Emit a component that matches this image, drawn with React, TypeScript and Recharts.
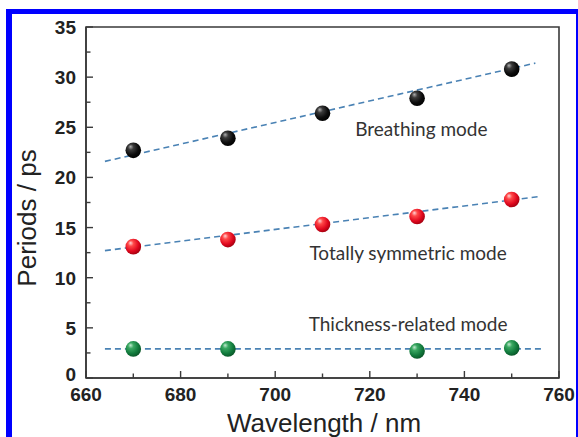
import { ComposedChart, ReferenceArea, ReferenceDot, Scatter, XAxis, YAxis } from 'recharts'

const WAVELENGTH = [670, 690, 710, 730, 750]
const BREATHING = [22.7, 23.9, 26.4, 27.9, 30.8]
const SYMMETRIC = [13.1, 13.8, 15.3, 16.1, 17.8]
const THICKNESS_WL = [670, 690, 730, 750]
const THICKNESS = [2.9, 2.9, 2.7, 3.0]

// linear fit lines, end points
const BREATHING_FIT_WL = [664, 755]
const BREATHING_FIT = [21.6, 31.4]
const SYMMETRIC_FIT_WL = [664, 756]
const SYMMETRIC_FIT = [12.7, 18.1]
const THICKNESS_FIT_WL = [664, 757]
const THICKNESS_FIT = [2.9, 2.9]

const X_TICKS = [660, 670, 680, 690, 700, 710, 720, 730, 740, 750, 760]
const Y_TICKS = [0, 2.5, 5, 7.5, 10, 12.5, 15, 17.5, 20, 22.5, 25, 27.5, 30, 32.5, 35]

const LABELS = [
  { text: 'Breathing mode', x: 730.9, y: 24.8 },
  { text: 'Totally symmetric mode', x: 728.1, y: 12.4 },
  { text: 'Thickness-related mode', x: 728.1, y: 5.4 },
]

const toPoints = (xs: number[], ys: number[]) => xs.map((x, i) => ({ x, y: ys[i] }))

const AXIS = '#3a3a3a'
const FIT = '#4a82b4'
const TICK_FONT = { fontFamily: '"Liberation Sans", Arial, sans-serif', fontWeight: 700, fontSize: 19, fill: '#222' }

function XTick({ x, y, payload }: any) {
  const major = payload.value % 20 === 0
  return (
    <g>
      <line x1={x} y1={y} x2={x} y2={y - (major ? 7 : 4.5)} stroke={AXIS} strokeWidth={1.4} />
      {major && (
        <text x={x} y={y + 23} textAnchor="middle" {...TICK_FONT}>
          {payload.value}
        </text>
      )}
    </g>
  )
}

function YTick({ x, y, payload }: any) {
  const major = payload.value % 5 === 0
  // the 0 label sits a little higher so it clears the 660 below it
  const lift = payload.value === 0 ? 4 : 0
  return (
    <g>
      <line x1={x} y1={y} x2={x + (major ? 7 : 4.5)} y2={y} stroke={AXIS} strokeWidth={1.4} />
      {major && (
        <text x={x - 10} y={y + 7 - lift} textAnchor="end" {...TICK_FONT}>
          {payload.value}
        </text>
      )}
    </g>
  )
}

const ball = (id: string) => (props: any) => <circle cx={props.cx} cy={props.cy} r={7.8} fill={`url(#${id})`} />
const noShape = () => <g />

function Sphere({ id, stops }: { id: string; stops: string[] }) {
  return (
    <radialGradient id={id} cx="40%" cy="38%" r="65%" fx="32%" fy="26%">
      <stop offset="0%" stopColor={stops[0]} />
      <stop offset="28%" stopColor={stops[1]} />
      <stop offset="70%" stopColor={stops[2]} />
      <stop offset="100%" stopColor={stops[3]} />
    </radialGradient>
  )
}

export default function App() {
  const fitLine = { stroke: FIT, strokeWidth: 1.6, strokeDasharray: '6 4' }
  return (
    <div style={{ position: 'relative', width: 578, height: 437, background: '#fff', overflow: 'hidden' }}>
      <style>{'body{margin:0}'}</style>
      <div style={{ position: 'absolute', left: 6, top: 9, width: 6, height: 428, background: '#0000ff' }} />
      <div style={{ position: 'absolute', left: 6, top: 9, width: 572, height: 5, background: '#0000ff' }} />
      <div style={{ position: 'absolute', left: 576, top: 9, width: 2, height: 428, background: '#0000ff' }} />
      <ComposedChart width={578} height={437} margin={{ top: 27, right: 19, left: 0, bottom: 0 }} style={{ position: 'absolute', left: 0, top: 0 }}>
        <defs>
          <Sphere id="gBlack" stops={['#b0b0b0', '#3a3a3a', '#0c0c0c', '#000']} />
          <Sphere id="gRed" stops={['#ffd6d6', '#ff4848', '#e0081e', '#a0000f']} />
          <Sphere id="gGreen" stops={['#c2ead0', '#3aa862', '#117a3c', '#0a5628']} />
        </defs>
        <XAxis
          dataKey="x"
          type="number"
          domain={[660, 760]}
          ticks={X_TICKS}
          interval={0}
          tick={<XTick />}
          tickLine={false}
          tickSize={0}
          tickMargin={0}
          axisLine={{ stroke: AXIS, strokeWidth: 1.6 }}
          height={59}
          allowDataOverflow
          label={{
            content: () => (
              <text x={324} y={432} textAnchor="middle" fontFamily='"Liberation Sans", Arial, sans-serif' fontSize={26} fill="#222">
                Wavelength / nm
              </text>
            ),
          }}
        />
        <YAxis
          dataKey="y"
          type="number"
          domain={[0, 35]}
          ticks={Y_TICKS}
          interval={0}
          tick={<YTick />}
          tickLine={false}
          tickSize={0}
          tickMargin={0}
          axisLine={{ stroke: AXIS, strokeWidth: 1.6 }}
          width={86}
          allowDataOverflow
          label={{
            content: () => (
              <text transform="translate(36,218) rotate(-90)" textAnchor="middle" fontFamily='"Liberation Sans", Arial, sans-serif' fontSize={26} fill="#222">
                Periods / ps
              </text>
            ),
          }}
        />
        <ReferenceArea x1={660} x2={760} y1={0} y2={35} fill="none" stroke={AXIS} strokeWidth={1.6} />
        <Scatter data={toPoints(BREATHING_FIT_WL, BREATHING_FIT)} line={fitLine} lineType="joint" shape={noShape} isAnimationActive={false} />
        <Scatter data={toPoints(SYMMETRIC_FIT_WL, SYMMETRIC_FIT)} line={fitLine} lineType="joint" shape={noShape} isAnimationActive={false} />
        <Scatter data={toPoints(THICKNESS_FIT_WL, THICKNESS_FIT)} line={fitLine} lineType="joint" shape={noShape} isAnimationActive={false} />
        <Scatter data={toPoints(WAVELENGTH, BREATHING)} shape={ball('gBlack')} isAnimationActive={false} />
        <Scatter data={toPoints(WAVELENGTH, SYMMETRIC)} shape={ball('gRed')} isAnimationActive={false} />
        <Scatter data={toPoints(THICKNESS_WL, THICKNESS)} shape={ball('gGreen')} isAnimationActive={false} />
        {LABELS.map((l) => (
          <ReferenceDot
            key={l.text}
            x={l.x}
            y={l.y}
            r={0}
            stroke="none"
            fill="none"
            label={{ value: l.text, position: 'center', fill: '#333', fontSize: 19, fontFamily: 'Lato, "Open Sans", sans-serif' }}
          />
        ))}
      </ComposedChart>
    </div>
  )
}
